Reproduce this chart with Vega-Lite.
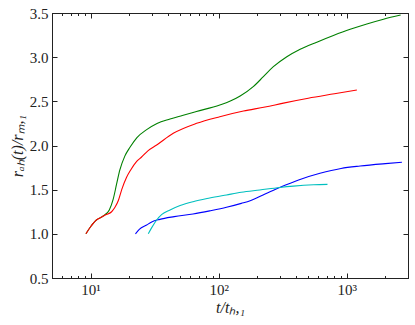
{
"$schema":"https://vega.github.io/schema/vega-lite/v6.json",
"width":356,"height":265,"autosize":"none",
"padding":{"left":52,"top":13,"right":7,"bottom":47},
"background":"white",
"config":{"view":{"stroke":"#222","strokeWidth":1},"font":"Liberation Serif",
 "axis":{"domainColor":"#222","tickColor":"#222","labelColor":"#222","titleColor":"#222","labelFont":"Liberation Serif","titleFont":"Liberation Serif","labelFontSize":15,"titleFontSize":16,"titleFontWeight":"normal","grid":false}},
"data":{"values":[
{"s":"g","t":9.2,"r":1.0},{"s":"g","t":10,"r":1.08},{"s":"g","t":11.1,"r":1.157},{"s":"g","t":12.2,"r":1.19},{"s":"g","t":12.9,"r":1.215},{"s":"g","t":14.0,"r":1.27},{"s":"g","t":15.0,"r":1.39},{"s":"g","t":16.0,"r":1.57},{"s":"g","t":16.9,"r":1.72},{"s":"g","t":18.5,"r":1.88},{"s":"g","t":20.3,"r":1.98},{"s":"g","t":23,"r":2.09},{"s":"g","t":27.4,"r":2.18},{"s":"g","t":33,"r":2.25},{"s":"g","t":41.7,"r":2.30},{"s":"g","t":52,"r":2.34},{"s":"g","t":67,"r":2.385},{"s":"g","t":102,"r":2.459},{"s":"g","t":122,"r":2.50},{"s":"g","t":147,"r":2.56},{"s":"g","t":186,"r":2.666},{"s":"g","t":223,"r":2.779},{"s":"g","t":267,"r":2.892},{"s":"g","t":340,"r":3.005},{"s":"g","t":432,"r":3.09},{"s":"g","t":583,"r":3.17},{"s":"g","t":785,"r":3.245},{"s":"g","t":1061,"r":3.315},{"s":"g","t":1432,"r":3.376},{"s":"g","t":1932,"r":3.43},{"s":"g","t":2630,"r":3.477},
{"s":"r","t":9.2,"r":1.0},{"s":"r","t":10,"r":1.08},{"s":"r","t":11.1,"r":1.157},{"s":"r","t":12.2,"r":1.19},{"s":"r","t":12.9,"r":1.21},{"s":"r","t":14.6,"r":1.25},{"s":"r","t":15.5,"r":1.3},{"s":"r","t":16.5,"r":1.38},{"s":"r","t":17.5,"r":1.5},{"s":"r","t":19.1,"r":1.64},{"s":"r","t":20.5,"r":1.72},{"s":"r","t":22.9,"r":1.82},{"s":"r","t":25,"r":1.87},{"s":"r","t":28,"r":1.94},{"s":"r","t":32.8,"r":2.006},{"s":"r","t":44.2,"r":2.138},{"s":"r","t":67.3,"r":2.251},{"s":"r","t":102,"r":2.326},{"s":"r","t":156,"r":2.39},{"s":"r","t":230,"r":2.435},{"s":"r","t":320,"r":2.48},{"s":"r","t":500,"r":2.535},{"s":"r","t":800,"r":2.585},{"s":"r","t":1197,"r":2.628},
{"s":"b","t":22.4,"r":1.0},{"s":"b","t":24,"r":1.05},{"s":"b","t":27.4,"r":1.1},{"s":"b","t":30,"r":1.135},{"s":"b","t":34.7,"r":1.164},{"s":"b","t":45,"r":1.195},{"s":"b","t":63,"r":1.225},{"s":"b","t":85,"r":1.26},{"s":"b","t":115,"r":1.3},{"s":"b","t":150,"r":1.345},{"s":"b","t":176,"r":1.375},{"s":"b","t":230,"r":1.45},{"s":"b","t":302,"r":1.527},{"s":"b","t":420,"r":1.61},{"s":"b","t":617,"r":1.685},{"s":"b","t":900,"r":1.74},{"s":"b","t":1268,"r":1.768},{"s":"b","t":2000,"r":1.795},{"s":"b","t":2690,"r":1.81},
{"s":"c","t":28.2,"r":1.0},{"s":"c","t":30,"r":1.07},{"s":"c","t":32.8,"r":1.157},{"s":"c","t":36,"r":1.22},{"s":"c","t":41.7,"r":1.27},{"s":"c","t":50,"r":1.32},{"s":"c","t":63,"r":1.364},{"s":"c","t":85,"r":1.405},{"s":"c","t":115,"r":1.44},{"s":"c","t":150,"r":1.47},{"s":"c","t":209,"r":1.496},{"s":"c","t":300,"r":1.525},{"s":"c","t":383,"r":1.54},{"s":"c","t":550,"r":1.555},{"s":"c","t":706,"r":1.56}
]},
"layer":[
{"mark":{"type":"line","strokeWidth":1.1,"clip":true,"interpolate":"monotone"},
 "encoding":{
  "x":{"field":"t","type":"quantitative","scale":{"type":"log","domain":[5,3000],"nice":false},
   "axis":{"orient":"bottom","title":"t/tₕ,₁","titleFontStyle":"italic","titlePadding":2,
    "values":[5,6,7,8,9,10,20,30,40,50,60,70,80,90,100,200,300,400,500,600,700,800,900,1000,2000,3000],
    "labelExpr":"datum.value==10?'10¹':datum.value==100?'10²':datum.value==1000?'10³':''",
    "tickSize":{"condition":{"test":"datum.value==10||datum.value==100||datum.value==1000","value":-5},"value":-2.5},
    "labelPadding":9,"labelFlush":false}},
  "y":{"field":"r","type":"quantitative","scale":{"domain":[0.5,3.5],"nice":false,"zero":false},
   "axis":{"orient":"left","title":"rₐₕ(t)/rₘ,₁","titleFontStyle":"italic","titlePadding":4,
    "values":[0.5,1.0,1.5,2.0,2.5,3.0,3.5],"format":".1f","tickSize":-5,"labelPadding":9,"labelFlush":false}},
  "color":{"field":"s","type":"nominal","scale":{"domain":["g","r","b","c"],"range":["#008000","#ff0000","#0000ff","#00bfbf"]},"legend":null}}},
{"mark":{"type":"line","opacity":0},
 "encoding":{
  "x":{"field":"t","type":"quantitative",
   "axis":{"orient":"top","title":null,"labels":false,
    "values":[5,6,7,8,9,10,20,30,40,50,60,70,80,90,100,200,300,400,500,600,700,800,900,1000,2000,3000],
    "tickSize":{"condition":{"test":"datum.value==10||datum.value==100||datum.value==1000","value":-5},"value":-2.5}}},
  "y":{"field":"r","type":"quantitative",
   "axis":{"orient":"right","title":null,"labels":false,"values":[0.5,1.0,1.5,2.0,2.5,3.0,3.5],"tickSize":-5}},
  "detail":{"field":"s"}}}
],
"resolve":{"axis":{"x":"independent","y":"independent"}}
}
